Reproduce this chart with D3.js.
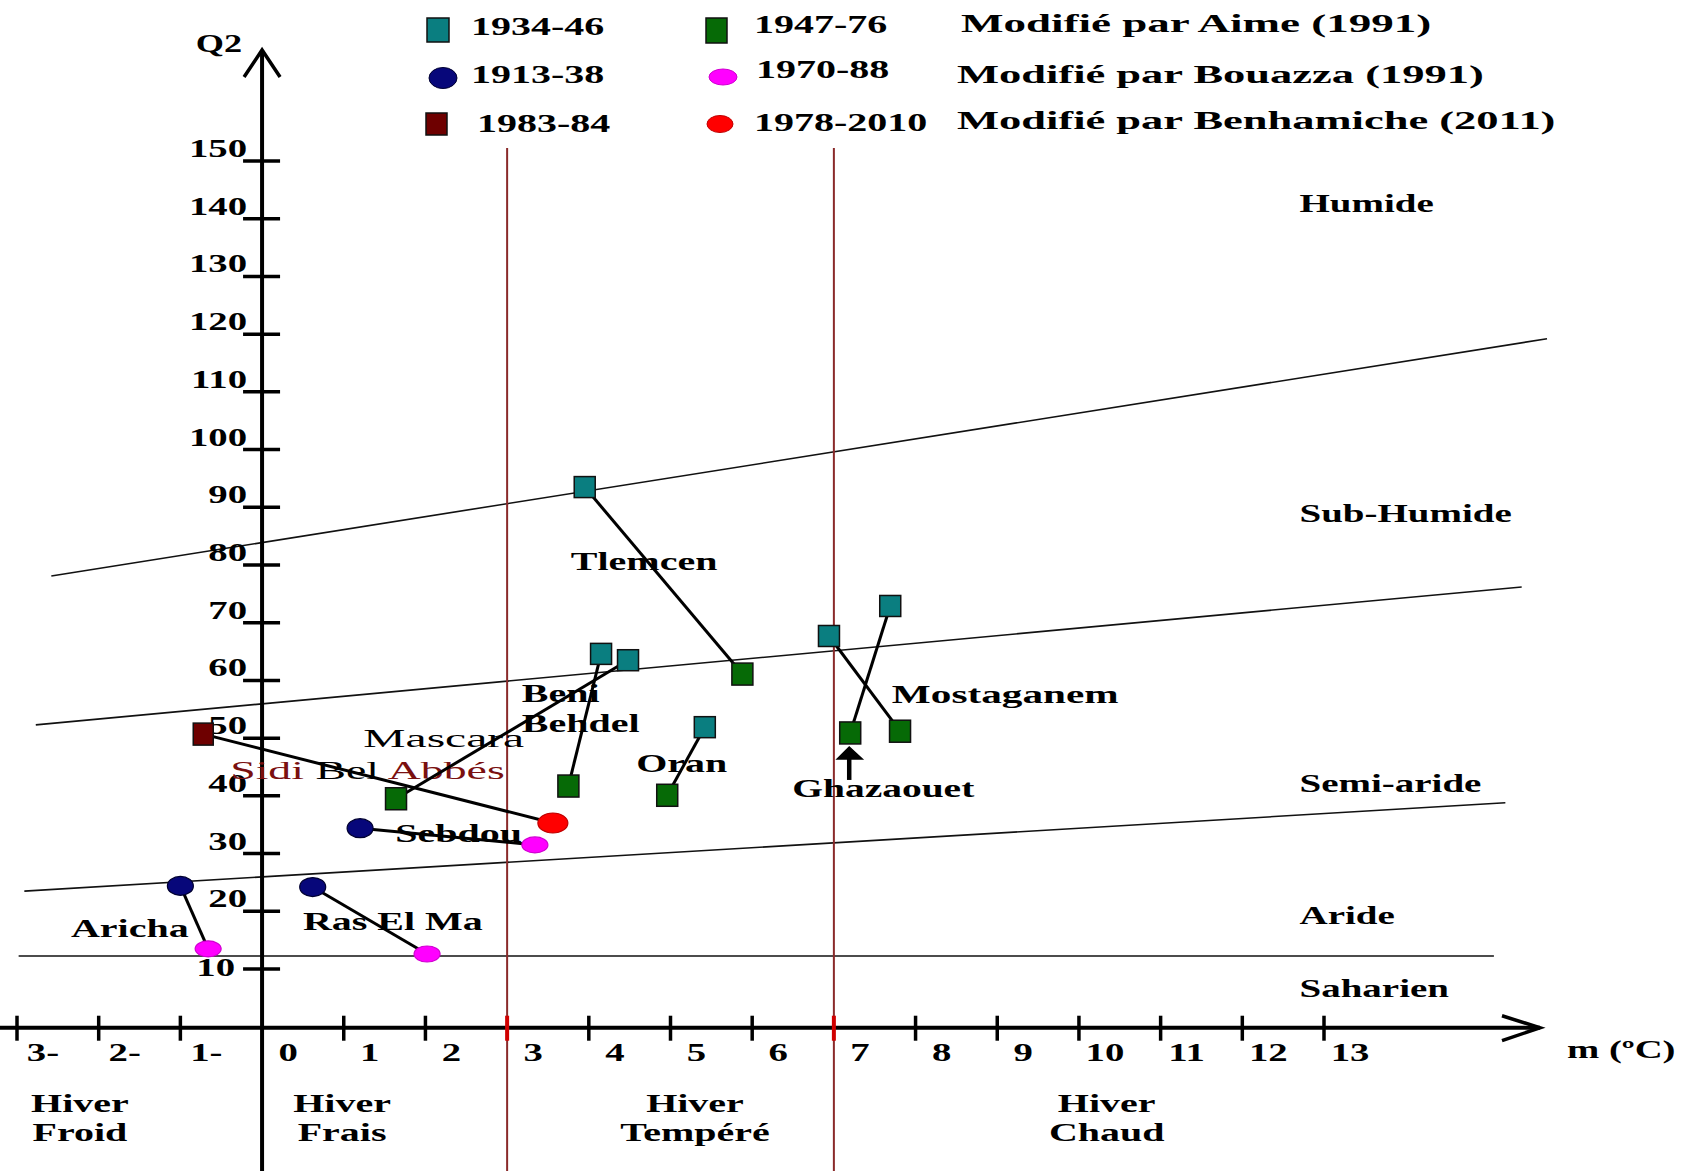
<!DOCTYPE html>
<html><head><meta charset="utf-8">
<script src="https://cdn.jsdelivr.net/npm/d3@7"></script>
<style>body{margin:0;background:#fff}svg{display:block}</style>
</head><body><svg id="c" width="1683" height="1171"></svg>
<script>
// ---------- DATA ----------
const stationsA = ["Tlemcen", "Beni Behdel", "Mascara", "Oran", "Mostaganem", "Ghazaouet"];
const m1934_46 = [3.95, 4.15, 4.48, 5.42, 6.94, 7.69];
const q1934_46 = [93.5, 64.6, 63.5, 51.9, 67.7, 72.9];
const m1947_76 = [5.88, 3.75, 1.64, 4.96, 7.81, 7.20];
const q1947_76 = [61.1, 41.7, 39.5, 40.1, 51.2, 50.9];

const stationsB = ["Aricha", "Ras El Ma", "Sebdou"];
const m1913_38 = [-1.00, 0.62, 1.20];
const q1913_38 = [24.4, 24.2, 34.4];
const m1970_88 = [-0.66, 2.02, 3.34];
const q1970_88 = [13.5, 12.6, 31.5];

const stationsC = ["Sidi Bel Abbès"];
const m1983_84 = [-0.72];
const q1983_84 = [50.7];
const m1978_2010 = [3.56];
const q1978_2010 = [35.3];

const xTicks = [-3, -2, -1, 0, 1, 2, 3, 4, 5, 6, 7, 8, 9, 10, 11, 12, 13];
const xTickLabels = ["3-", "2-", "1-", "0", "1", "2", "3", "4", "5", "6", "7", "8", "9", "10", "11", "12", "13"];
const yTicks = [10, 20, 30, 40, 50, 60, 70, 80, 90, 100, 110, 120, 130, 140, 150];

// bioclimatic boundaries (m start, Q2 start, m end, Q2 end)
const boundM1 = [-2.58, -2.77, -2.91, -2.98];
const boundQ1 = [78.1, 52.3, 23.5, 12.25];
const boundM2 = [15.73, 15.42, 15.22, 15.08];
const boundQ2 = [119.2, 76.2, 38.8, 12.25];

const zoneNames = ["Humide", "Sub-Humide", "Semi-aride", "Aride", "Saharien"];
const zoneQ = [141.2, 87.5, 40.7, 17.8, 5.15];
const winterLimits = [3, 7];
const winterLine1 = ["Hiver", "Hiver", "Hiver", "Hiver"];
const winterLine2 = ["Froid", "Frais", "Tempéré", "Chaud"];
const winterCenterM = [-2.23, 0.98, 5.3, 10.34];

const legendPeriods = ["1934-46", "1913-38", "1983-84", "1947-76", "1970-88", "1978-2010"];
const legendAuthors = ["Modifié par Aime (1991)", "Modifié par Bouazza (1991)", "Modifié par Benhamiche (2011)"];

// ---------- CHART ----------
const svg = d3.select("#c");
svg.append("rect").attr("width", 1683).attr("height", 1171).attr("fill", "#fff");
const x = d3.scaleLinear().domain([-3, 13]).range([17, 1324]);
const y = d3.scaleLinear().domain([10, 150]).range([969, 161]);
const FONT = '"Liberation Serif","Times New Roman",serif';

function txt(px, py, s, o = {}) {
  const sx = o.sx || 1.6;
  return svg.append("text")
    .attr("transform", `translate(${px},${py}) scale(${sx},1)`)
    .attr("text-anchor", o.anchor || "start")
    .attr("font-weight", o.weight || "bold")
    .attr("fill", o.fill || "#000")
    .attr("font-size", o.size || 25)
    .attr("font-family", FONT)
    .text(s);
}

const C = {
  teal: "#0a7e80", green: "#066a06", navy: "#07077a",
  magenta: "#ff00ff", red: "#ff0000", darkred: "#6e0000", limit: "#8a2a2a"
};

// boundary lines
boundM1.forEach((m, i) => {
  svg.append("line")
    .attr("x1", x(m)).attr("y1", y(boundQ1[i]))
    .attr("x2", x(boundM2[i])).attr("y2", y(boundQ2[i]))
    .attr("stroke", "#111").attr("stroke-width", 1.6);
});

// winter limits (vertical red lines)
winterLimits.forEach(m => {
  svg.append("line").attr("x1", x(m)).attr("x2", x(m)).attr("y1", 148).attr("y2", 1171)
    .attr("stroke", C.limit).attr("stroke-width", 2);
});

// axes
const x0 = x(0), y0 = y(0) + 1;
svg.append("line").attr("x1", x0).attr("x2", x0).attr("y1", 50).attr("y2", 1171)
  .attr("stroke", "#000").attr("stroke-width", 4);
svg.append("path").attr("d", `M${x0 - 18},77 L${x0},50 L${x0 + 18},77`)
  .attr("fill", "none").attr("stroke", "#000").attr("stroke-width", 3.5);
svg.append("line").attr("x1", 0).attr("x2", 1540).attr("y1", y0).attr("y2", y0)
  .attr("stroke", "#000").attr("stroke-width", 4);
svg.append("path").attr("d", `M1502,${y0 - 12} L1540,${y0} L1502,${y0 + 13}`)
  .attr("fill", "none").attr("stroke", "#000").attr("stroke-width", 3.5);

// y ticks
yTicks.forEach(v => {
  svg.append("line").attr("x1", x0 - 19).attr("x2", x0 + 18).attr("y1", y(v)).attr("y2", y(v))
    .attr("stroke", "#000").attr("stroke-width", 3.5);
  if (v === 10) txt(x0 - 27, y(v) + 7, String(v), { anchor: "end", sx: 1.55 });
  else txt(x0 - 15, y(v) - 4, String(v), { anchor: "end", sx: 1.55 });
});
txt(x0 - 20, 52, "Q2", { anchor: "end", sx: 1.45 });

// x ticks
xTicks.forEach((v, i) => {
  if (v !== 0) {
    const isLimit = winterLimits.includes(v);
    svg.append("line").attr("x1", x(v)).attr("x2", x(v)).attr("y1", y0 - 12).attr("y2", y0 + 13)
      .attr("stroke", isLimit ? "#d00000" : "#000").attr("stroke-width", isLimit ? 4 : 3.5);
  }
  txt(x(v) + 26, y0 + 33, xTickLabels[i], { anchor: "middle", sx: 1.55 });
});
txt(1567, y0 + 30, "m (ºC)", { sx: 1.55 });

// zone names
zoneNames.forEach((n, i) => txt(x(12.7), y(zoneQ[i]), n, { sx: 1.56 }));

// winter names
winterLine1.forEach((n, i) => {
  txt(x(winterCenterM[i]), 1112, n, { anchor: "middle", sx: 1.6 });
  txt(x(winterCenterM[i]), 1141, winterLine2[i], { anchor: "middle", sx: 1.6 });
});

// station labels
txt(x(3.78), y(79.1), "Tlemcen");
txt(x(3.18), y(56.3), "Beni");
txt(x(3.18), y(51.1), "Behdel");
txt(x(1.24), y(48.5), "Mascara", { weight: "normal", sx: 1.9 });
const sba = txt(x(-0.39), y(42.9), "", { weight: "normal", sx: 1.83 });
sba.append("tspan").attr("fill", "#7a1010").text("Sidi ");
sba.append("tspan").attr("fill", "#000").text("Bel");
sba.append("tspan").attr("fill", "#7a1010").text(" Abbés");
txt(x(4.58), y(44.1), "Oran");
txt(x(7.71), y(56.1), "Mostaganem", { sx: 1.65 });
txt(x(6.49), y(39.8), "Ghazaouet", { sx: 1.58 });
txt(x(1.63), y(32.0), "Sebdou", { sx: 1.6 });
txt(x(-2.34), y(15.5), "Aricha", { sx: 1.6 });
txt(x(0.5), y(16.8), "Ras El Ma", { sx: 1.6 });

// Ghazaouet arrow (points to the 1947-76 Ghazaouet marker)
const gi = stationsA.indexOf("Ghazaouet");
const gx = x(m1947_76[gi]) - 1, gy = y(q1947_76[gi]);
svg.append("line").attr("x1", gx).attr("x2", gx).attr("y1", gy + 47).attr("y2", gy + 22)
  .attr("stroke", "#000").attr("stroke-width", 4.5);
svg.append("path").attr("d", `M${gx - 12},${gy + 26} L${gx},${gy + 14} L${gx + 13},${gy + 26} Z`)
  .attr("fill", "#000").attr("stroke", "#000").attr("stroke-width", 1.5);

// connecting lines
function links(mA, qA, mB, qB) {
  mA.forEach((m, i) => {
    svg.append("line").attr("x1", x(m)).attr("y1", y(qA[i]))
      .attr("x2", x(mB[i])).attr("y2", y(qB[i]))
      .attr("stroke", "#000").attr("stroke-width", 3);
  });
}
links(m1934_46, q1934_46, m1947_76, q1947_76);
links(m1913_38, q1913_38, m1970_88, q1970_88);
links(m1983_84, q1983_84, m1978_2010, q1978_2010);

// markers
function squares(ms, qs, color, w = 21, h = 21) {
  ms.forEach((m, i) => svg.append("rect")
    .attr("x", x(m) - w / 2).attr("y", y(qs[i]) - h / 2).attr("width", w).attr("height", h)
    .attr("fill", color).attr("stroke", "#111").attr("stroke-width", 1.5));
}
function ellipses(ms, qs, color, rx, ry, stroke) {
  ms.forEach((m, i) => svg.append("ellipse")
    .attr("cx", x(m)).attr("cy", y(qs[i])).attr("rx", rx).attr("ry", ry)
    .attr("fill", color).attr("stroke", stroke).attr("stroke-width", 1.2));
}
squares(m1934_46, q1934_46, C.teal);
squares(m1947_76, q1947_76, C.green, 21, 22);
squares(m1983_84, q1983_84, C.darkred, 20, 22);
ellipses(m1913_38, q1913_38, C.navy, 13, 9.5, "#000030");
ellipses(m1970_88, q1970_88, C.magenta, 13, 8, "#d000d0");
ellipses(m1978_2010, q1978_2010, C.red, 15, 10, "#c00000");

// legend
const lg = svg.append("g");
lg.append("rect").attr("x", 427).attr("y", 18).attr("width", 22).attr("height", 24).attr("fill", C.teal).attr("stroke", "#111").attr("stroke-width", 1.5);
lg.append("ellipse").attr("cx", 443).attr("cy", 78).attr("rx", 14).attr("ry", 10.5).attr("fill", C.navy).attr("stroke", "#000030");
lg.append("rect").attr("x", 426).attr("y", 113).attr("width", 21).attr("height", 22).attr("fill", C.darkred).attr("stroke", "#111").attr("stroke-width", 1.5);
lg.append("rect").attr("x", 706).attr("y", 18).attr("width", 21).attr("height", 25).attr("fill", C.green).attr("stroke", "#111").attr("stroke-width", 1.5);
lg.append("ellipse").attr("cx", 723).attr("cy", 77).attr("rx", 14).attr("ry", 8).attr("fill", C.magenta).attr("stroke", "#d000d0");
lg.append("ellipse").attr("cx", 720).attr("cy", 124).attr("rx", 13).attr("ry", 8.5).attr("fill", C.red).attr("stroke", "#c00000");
txt(471, 35, legendPeriods[0], { sx: 1.6 });
txt(471, 83, legendPeriods[1], { sx: 1.6 });
txt(477, 132, legendPeriods[2], { sx: 1.6 });
txt(754, 33, legendPeriods[3], { sx: 1.6 });
txt(756, 78, legendPeriods[4], { sx: 1.6 });
txt(754, 131, legendPeriods[5], { sx: 1.6 });
txt(961, 32, legendAuthors[0], { sx: 1.8 });
txt(957, 83, legendAuthors[1], { sx: 1.78 });
txt(957, 129, legendAuthors[2], { sx: 1.78 });
</script></body></html>
